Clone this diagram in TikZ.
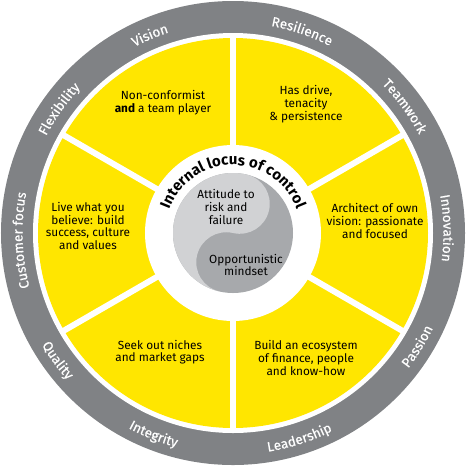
\documentclass[tikz,border=0pt]{standalone}
\usepackage{fontspec}
\setmainfont{Fira Sans}
\newfontfamily\ringfam[FakeBold=0.5]{Fira Sans}
\usetikzlibrary{decorations.text}
\definecolor{eyyellow}{HTML}{FFE600}
\definecolor{ringgray}{HTML}{808285}
\definecolor{yinlight}{HTML}{D1D2D4}
\definecolor{yindark}{HTML}{A7A9AC}
\newcommand\ringfont{\ringfam\fontsize{13.5}{13.5}\selectfont}
\newcommand\locusfont{\bfseries\fontsize{15}{15}\selectfont}
\begin{document}
\begin{tikzpicture}[x=1pt,y=1pt,
  celltext/.style={align=center, font=\fontsize{11.8}{12.7}\selectfont, text=black, inner sep=0pt},
  ringcw/.style={decorate, decoration={text along path, text align=center, text color=white, text={|\ringfont|#1}}},
  ringccw/.style={decorate, decoration={text along path, text align=center, text color=white, text={|\ringfont|#1}}},
  ]
\useasboundingbox (-233,-234) rectangle (235,233);
% rings
\fill[ringgray] (0,0) circle[radius=232];
\fill[white] (0,0) circle[radius=200];
\fill[eyyellow] (0,0) circle[radius=195];
\foreach \a in {30,90,...,330} \draw[white, line width=6] (0,0) -- (\a:198);
\fill[white] (0,0) circle[radius=88];
% yin-yang
\fill[yindark] (0,0) circle[radius=60];
\begin{scope}[rotate=-13]
\fill[yinlight] (0,60) arc[start angle=90, end angle=270, radius=60]
  arc[start angle=-90, end angle=-270, radius=30]
  arc[start angle=-90, end angle=90, radius=30] -- cycle;
\end{scope}
% outer ring words (clockwise, tops outward)
\path[ringcw={Customer focus}] (222:210.5) arc[start angle=222, end angle=142, radius=210.5];
\path[ringcw={Flexibility}] (184.5:210.5) arc[start angle=184.5, end angle=104.5, radius=210.5];
\path[ringcw={Vision}] (152.8:210.5) arc[start angle=152.8, end angle=72.8, radius=210.5];
\path[ringcw={Resilience}] (111.1:210.5) arc[start angle=111.1, end angle=31.1, radius=210.5];
\path[ringcw={Teamwork}] (76.4:210.5) arc[start angle=76.4, end angle=-3.6, radius=210.5];
\path[ringcw={Innovation}] (41.3:210.5) arc[start angle=41.3, end angle=-38.7, radius=210.5];
% outer ring words (counterclockwise, tops inward)
\path[ringccw={Passion}] (-71.6:221.5) arc[start angle=-71.6, end angle=8.4, radius=221.5];
\path[ringccw={Leadership}] (-112.1:221.5) arc[start angle=-112.1, end angle=-32.1, radius=221.5];
\path[ringccw={Integrity}] (-151.5:221.5) arc[start angle=-151.5, end angle=-71.5, radius=221.5];
\path[ringccw={Quality}] (-184:221.5) arc[start angle=-184, end angle=-104, radius=221.5];
% internal locus of control
\path[decorate, decoration={text along path, text align=center, text={|\locusfont|Internal locus of control}}] (175:68) arc[start angle=175, end angle=5, radius=68];
% sector texts
\node[celltext] (nonconf) at (-70,130) {Non-conformist\\\textbf{and} a team player};
\node[celltext] (drive) at (73,129) {Has drive,\\tenacity\\\& persistence};
\node[celltext] (architect) at (142,12) {Architect of own\\vision: passionate\\and focused};
\node[celltext] (ecosystem) at (73,-125) {Build an ecosystem\\of finance, people\\and know-how};
\node[celltext] (niches) at (-73,-119) {Seek out niches\\and market gaps};
\node[celltext] (live) at (-145,7) {Live what you\\believe: build\\success, culture\\and values};
\node[celltext] (attitude) at (-7,26) {Attitude to\\risk and\\failure};
\node[celltext] (opport) at (13,-32) {Opportunistic\\mindset};
\end{tikzpicture}
\end{document}
